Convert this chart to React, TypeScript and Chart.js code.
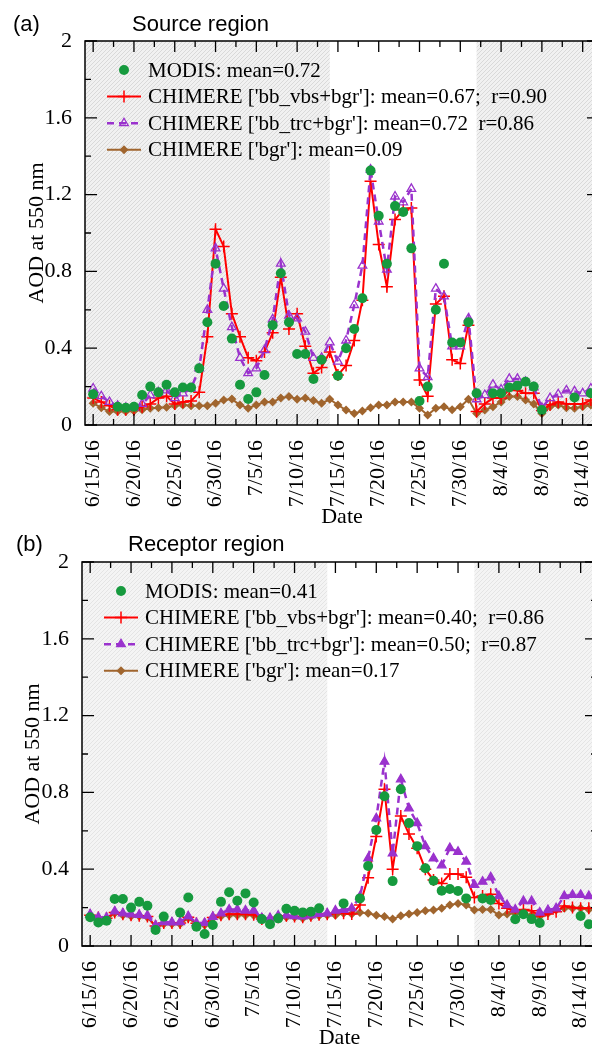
import React, { useEffect, useRef } from 'react';
import { Chart, registerables } from 'chart.js';
import { drawPoint } from 'chart.js/helpers';

Chart.register(...registerables);

// ---------- categories (daily) ----------
const dates = [
  '6/14/16', '6/15/16', '6/16/16', '6/17/16', '6/18/16', '6/19/16', '6/20/16', '6/21/16', '6/22/16', '6/23/16',
  '6/24/16', '6/25/16', '6/26/16', '6/27/16', '6/28/16', '6/29/16', '6/30/16',
  '7/1/16', '7/2/16', '7/3/16', '7/4/16', '7/5/16', '7/6/16', '7/7/16', '7/8/16', '7/9/16', '7/10/16',
  '7/11/16', '7/12/16', '7/13/16', '7/14/16', '7/15/16', '7/16/16', '7/17/16', '7/18/16', '7/19/16', '7/20/16',
  '7/21/16', '7/22/16', '7/23/16', '7/24/16', '7/25/16', '7/26/16', '7/27/16', '7/28/16', '7/29/16', '7/30/16', '7/31/16',
  '8/1/16', '8/2/16', '8/3/16', '8/4/16', '8/5/16', '8/6/16', '8/7/16', '8/8/16', '8/9/16', '8/10/16',
  '8/11/16', '8/12/16', '8/13/16', '8/14/16', '8/15/16', '8/16/16',
];
const xTickLabels = ['6/15/16', '6/20/16', '6/25/16', '6/30/16', '7/5/16', '7/10/16', '7/15/16', '7/20/16', '7/25/16', '7/30/16', '8/4/16', '8/9/16', '8/14/16'];
const yTicks = [0, 0.4, 0.8, 1.2, 1.6, 2];
// un-hatched (clear) period of the background
const clearPeriod = ['7/14/16', '8/1/16'];

// ---------- (a) Source region ----------
const srcModis = [null,
  0.16, null, null, 0.095, 0.09, 0.095, 0.156, 0.20, 0.17, 0.21,
  0.17, 0.195, 0.195, 0.295, 0.535, 0.84, 0.62, 0.45, 0.21, 0.135,
  0.17, 0.26, 0.52, 0.79, 0.535, 0.37, 0.37, 0.24, 0.34, null,
  0.257, 0.40, 0.50, 0.66, 1.325, 1.09, 0.84, 1.14, 1.11, 0.92,
  0.125, 0.20, 0.60, 0.84, 0.43, 0.43, 0.535, 0.165, null, 0.165,
  0.165, 0.195, 0.205, 0.225, 0.20, 0.078, null, null, null, 0.143,
  null, 0.165, null];
const srcVbs = [null,
  0.14, 0.12, 0.10, 0.08, 0.08, 0.08, 0.095, 0.11, 0.14, 0.15,
  0.11, 0.12, 0.125, 0.17, 0.46, 1.02, 0.93, 0.58, 0.46, 0.35,
  0.335, 0.38, 0.48, 0.77, 0.50, 0.58, 0.41, 0.27, 0.30, 0.38,
  0.26, 0.31, 0.44, 0.65, 1.27, 0.94, 0.72, 1.07, 1.12, 1.13,
  0.235, 0.15, 0.63, 0.67, 0.34, 0.32, 0.52, 0.07, 0.11, 0.14,
  0.14, 0.185, 0.18, 0.165, 0.165, 0.075, 0.105, 0.12, 0.11, 0.11,
  0.11, 0.13, null];
const srcTrc = [null,
  0.19, 0.15, 0.12, 0.10, 0.09, 0.09, 0.11, 0.155, 0.17, 0.18,
  0.14, 0.165, 0.19, 0.295, 0.60, 0.92, 0.71, 0.51, 0.35, 0.27,
  0.295, 0.39, 0.55, 0.84, 0.57, 0.555, 0.486, 0.35, 0.35, 0.43,
  0.33, 0.44, 0.625, 0.83, 1.33, 1.06, 0.81, 1.19, 1.16, 1.23,
  0.295, 0.25, 0.71, 0.67, 0.41, 0.41, 0.555, 0.134, 0.156, 0.21,
  0.185, 0.24, 0.24, 0.225, 0.196, 0.09, 0.14, 0.16, 0.18, 0.175,
  0.165, 0.19, null];
const srcBgr = [null,
  0.113, 0.09, 0.07, 0.07, 0.07, 0.073, 0.08, 0.087, 0.09, 0.092,
  0.10, 0.104, 0.10, 0.10, 0.10, 0.113, 0.13, 0.135, 0.104, 0.087,
  0.104, 0.12, 0.12, 0.14, 0.148, 0.134, 0.14, 0.127, 0.113, 0.134,
  0.104, 0.078, 0.06, 0.073, 0.09, 0.104, 0.104, 0.12, 0.12, 0.12,
  0.087, 0.052, 0.087, 0.095, 0.08, 0.095, 0.134, 0.06, 0.078, 0.095,
  0.12, 0.148, 0.148, 0.13, 0.11, 0.06, 0.095, 0.104, 0.09, 0.087,
  0.095, 0.104, null];
const srcLegend = [
  'MODIS: mean=0.72',
  "CHIMERE ['bb_vbs+bgr']: mean=0.67;  r=0.90",
  "CHIMERE ['bb_trc+bgr']: mean=0.72  r=0.86",
  "CHIMERE ['bgr']: mean=0.09",
];

// ---------- (b) Receptor region ----------
const recModis = [null,
  0.15, 0.123, 0.132, 0.245, 0.245, 0.20, 0.23, 0.21, 0.083, 0.153,
  null, 0.174, 0.253, 0.10, 0.0625, 0.109, 0.23, 0.28, 0.236, 0.274,
  0.227, 0.14, 0.113, 0.144, 0.194, 0.184, 0.175, 0.179, 0.196, null,
  null, 0.222, null, 0.248, 0.417, 0.604, 0.78, 0.338, 0.816, 0.64,
  0.52, 0.405, 0.34, 0.288, 0.297, 0.286, 0.248, null, 0.248, 0.24,
  null, null, 0.139, 0.165, 0.14, 0.12, null, null, null, null,
  0.156, 0.113, null];
const recVbs = [null,
  0.16, 0.148, 0.144, 0.175, 0.165, 0.16, 0.158, 0.153, 0.104, 0.12,
  0.12, 0.12, 0.15, 0.118, 0.115, 0.148, 0.16, 0.165, 0.165, 0.165,
  0.163, 0.14, 0.14, 0.15, 0.157, 0.153, 0.15, 0.157, 0.163, 0.165,
  0.17, 0.17, 0.167, 0.214, 0.356, 0.57, 0.816, 0.40, 0.677, 0.583,
  0.509, 0.40, 0.344, 0.326, 0.375, 0.375, 0.358, 0.253, 0.26, 0.27,
  0.222, 0.196, 0.179, 0.19, 0.184, 0.156, 0.167, 0.179, 0.208, 0.20,
  0.196, 0.196, null];
const recTrc = [null,
  0.165, 0.15, 0.148, 0.18, 0.17, 0.165, 0.162, 0.158, 0.108, 0.125,
  0.123, 0.125, 0.155, 0.12, 0.12, 0.152, 0.17, 0.19, 0.19, 0.185,
  0.185, 0.145, 0.145, 0.158, 0.16, 0.156, 0.155, 0.16, 0.167, 0.17,
  0.184, 0.188, 0.196, 0.257, 0.457, 0.665, 0.96, 0.483, 0.868, 0.717,
  0.64, 0.52, 0.457, 0.42, 0.51, 0.49, 0.44, 0.318, 0.335, 0.358,
  0.26, 0.213, 0.19, 0.234, 0.234, 0.174, 0.1875, 0.196, 0.26, 0.266,
  0.266, 0.26, null];
const recBgr = [null,
  0.155, 0.145, 0.14, 0.17, 0.16, 0.155, 0.155, 0.15, 0.10, 0.115,
  0.115, 0.115, 0.145, 0.115, 0.11, 0.145, 0.155, 0.16, 0.16, 0.16,
  0.16, 0.135, 0.135, 0.145, 0.15, 0.15, 0.145, 0.152, 0.158, 0.16,
  0.16, 0.17, 0.167, 0.174, 0.17, 0.16, 0.153, 0.14, 0.158, 0.167,
  0.175, 0.184, 0.1875, 0.196, 0.213, 0.222, 0.213, 0.1875, 0.19, 0.19,
  0.161, 0.167, 0.17, 0.167, 0.161, 0.153, 0.17, 0.1875, 0.196, 0.196,
  0.196, 0.19, null];
const recLegend = [
  'MODIS: mean=0.41',
  "CHIMERE ['bb_vbs+bgr']: mean=0.40;  r=0.86",
  "CHIMERE ['bb_trc+bgr']: mean=0.50;  r=0.87",
  "CHIMERE ['bgr']: mean=0.17",
];

const GREEN = '#169a3e';
const RED = '#ff0000';
const PURPLE = '#9a32cd';
const BROWN = '#a0652e';
const SERIF = '"Liberation Serif", "Times New Roman", serif';
const SANS = '"Liberation Sans", Arial, sans-serif';

type Spec = {
  top: number; width: number; height: number;
  padTop: number; yAxisWidth: number; xAxisHeight: number;
  yTitlePad: number; xTitleLH: number;
  letter: string; title: string; titleBase: number; letterX: number; titleX: number;
  legend: string[];
  modis: (number | null)[]; vbs: (number | null)[]; trc: (number | null)[]; bgr: (number | null)[];
  trcFilled: boolean; hatchBg: string; hatchLine: string;
};

const panels: Spec[] = [
  {
    top: 0, width: 599, height: 530, padTop: 41, yAxisWidth: 85, xAxisHeight: 105,
    yTitlePad: 26, xTitleLH: 1.18,
    letter: '(a)', title: 'Source region', titleBase: 31, letterX: 13, titleX: 132,
    legend: srcLegend, modis: srcModis, vbs: srcVbs, trc: srcTrc, bgr: srcBgr,
    trcFilled: false, hatchBg: '#f1f1f1', hatchLine: '#d9d9d9',
  },
  {
    top: 530, width: 597, height: 518, padTop: 32, yAxisWidth: 82, xAxisHeight: 102,
    yTitlePad: 22, xTitleLH: 0.9,
    letter: '(b)', title: 'Receptor region', titleBase: 21, letterX: 16, titleX: 128,
    legend: recLegend, modis: recModis, vbs: recVbs, trc: recTrc, bgr: recBgr,
    trcFilled: true, hatchBg: '#f4f4f4', hatchLine: '#e4e4e4',
  },
];

function makePattern(ctx: CanvasRenderingContext2D, bg: string, line: string) {
  const c = document.createElement('canvas');
  c.width = 4; c.height = 4;
  const g = c.getContext('2d')!;
  g.fillStyle = bg; g.fillRect(0, 0, 4, 4);
  g.strokeStyle = line; g.lineWidth = 1;
  g.beginPath();
  g.moveTo(0, 4); g.lineTo(4, 0);
  g.moveTo(-1, 1); g.lineTo(1, -1);
  g.moveTo(3, 5); g.lineTo(5, 3);
  g.stroke();
  return ctx.createPattern(c, 'repeat')!;
}

function Panel({ spec }: { spec: Spec }) {
  const ref = useRef<HTMLCanvasElement | null>(null);
  useEffect(() => {
    const canvas = ref.current!;
    const pointDefs = [
      { pointStyle: 'circle', radius: 5, rotation: 0, borderWidth: 0, fill: GREEN, stroke: GREEN },
      { pointStyle: 'cross', radius: 6, rotation: 0, borderWidth: 1.5, fill: RED, stroke: RED },
      { pointStyle: 'triangle', radius: 5, rotation: 0, borderWidth: 1.3, fill: spec.trcFilled ? PURPLE : 'rgba(0,0,0,0)', stroke: PURPLE },
      { pointStyle: 'rectRot', radius: 4.5, rotation: 0, borderWidth: 0, fill: BROWN, stroke: BROWN },
    ];
    const lineDefs = [
      null,
      { color: RED, width: 2, dash: [] as number[] },
      { color: PURPLE, width: 2.5, dash: [7, 5] },
      { color: BROWN, width: 2, dash: [] as number[] },
    ];

    const decor = {
      id: 'decor',
      beforeDatasetsDraw(chart: any) {
        const { ctx, chartArea: a, scales: { x } } = chart;
        ctx.save();
        ctx.beginPath();
        ctx.rect(a.left, a.top, a.right - a.left, a.bottom - a.top);
        ctx.clip();
        ctx.fillStyle = '#ffffff';
        ctx.fillRect(a.left, a.top, a.right - a.left, a.bottom - a.top);
        const pat = makePattern(ctx, spec.hatchBg, spec.hatchLine);
        const x0 = x.getPixelForValue(dates.indexOf(clearPeriod[0]));
        const x1 = x.getPixelForValue(dates.indexOf(clearPeriod[1]));
        ctx.fillStyle = pat;
        ctx.fillRect(a.left, a.top, x0 - a.left, a.bottom - a.top);
        ctx.fillRect(x1, a.top, a.right - x1, a.bottom - a.top);
        ctx.restore();
      },
      afterDraw(chart: any) {
        const { ctx, chartArea: a, scales: { x, y } } = chart;
        ctx.save();
        // inward tick marks
        ctx.strokeStyle = '#000';
        ctx.lineWidth = 1.3;
        ctx.setLineDash([]);
        const majors = xTickLabels.map((l) => dates.indexOf(l));
        const vt = (px: number, len: number) => {
          ctx.beginPath();
          ctx.moveTo(px, a.bottom); ctx.lineTo(px, a.bottom - len);
          ctx.moveTo(px, a.top); ctx.lineTo(px, a.top + len);
          ctx.stroke();
        };
        majors.forEach((m) => vt(x.getPixelForValue(m), 11));
        for (let k = 0; k < majors.length - 1; k++) vt(x.getPixelForValue((majors[k] + majors[k + 1]) / 2), 6);
        const ht = (py: number, len: number) => {
          ctx.beginPath();
          ctx.moveTo(a.left, py); ctx.lineTo(a.left + len, py);
          ctx.moveTo(a.right, py); ctx.lineTo(a.right - len, py);
          ctx.stroke();
        };
        yTicks.forEach((v) => ht(y.getPixelForValue(v), 12));
        for (let k = 0; k < yTicks.length - 1; k++) ht(y.getPixelForValue((yTicks[k] + yTicks[k + 1]) / 2), 6);
        // frame
        ctx.lineWidth = 1.5;
        ctx.strokeRect(a.left, a.top, a.right - a.left, a.bottom - a.top);

        // legend
        const lx = a.left + 39;
        spec.legend.forEach((text, i) => {
          const ly = a.top + 29 + i * 26.6;
          const ld = lineDefs[i];
          if (ld) {
            ctx.strokeStyle = ld.color;
            ctx.lineWidth = ld.width;
            ctx.setLineDash(ld.dash);
            ctx.beginPath();
            ctx.moveTo(lx - 17, ly); ctx.lineTo(lx + 17, ly);
            ctx.stroke();
            ctx.setLineDash([]);
          }
          const pd = pointDefs[i];
          ctx.fillStyle = pd.fill;
          ctx.strokeStyle = pd.stroke;
          ctx.lineWidth = pd.borderWidth;
          drawPoint(ctx, pd as any, lx, ly);
          ctx.fillStyle = '#000';
          ctx.font = `21px ${SERIF}`;
          ctx.textBaseline = 'middle';
          ctx.textAlign = 'left';
          ctx.fillText(text, a.left + 63, ly + 1);
        });

        // panel titles
        ctx.fillStyle = '#000';
        ctx.font = `22px ${SANS}`;
        ctx.textBaseline = 'alphabetic';
        ctx.fillText(spec.letter, spec.letterX, spec.titleBase);
        ctx.fillText(spec.title, spec.titleX, spec.titleBase);
        ctx.restore();
      },
    };

    const chart = new Chart(canvas, {
      type: 'line',
      data: {
        labels: dates,
        datasets: [
          {
            label: 'MODIS', data: spec.modis, showLine: false, order: 0,
            pointStyle: 'circle', pointRadius: 5, pointBackgroundColor: GREEN, pointBorderColor: GREEN, pointBorderWidth: 0,
          },
          {
            label: "CHIMERE ['bb_vbs+bgr']", data: spec.vbs, order: 2,
            borderColor: RED, borderWidth: 2, tension: 0,
            pointStyle: 'cross', pointRadius: 6, pointBorderColor: RED, pointBorderWidth: 1.5,
          },
          {
            label: "CHIMERE ['bb_trc+bgr']", data: spec.trc, order: 1,
            borderColor: PURPLE, borderWidth: 2.5, borderDash: [7, 5], tension: 0,
            pointStyle: 'triangle', pointRadius: 5, pointBorderColor: PURPLE,
            pointBackgroundColor: spec.trcFilled ? PURPLE : 'rgba(0,0,0,0)', pointBorderWidth: 1.3,
          },
          {
            label: "CHIMERE ['bgr']", data: spec.bgr, order: 3,
            borderColor: BROWN, borderWidth: 2, tension: 0,
            pointStyle: 'rectRot', pointRadius: 4.5, pointBackgroundColor: BROWN, pointBorderColor: BROWN, pointBorderWidth: 0,
          },
        ] as any,
      },
      options: {
        responsive: false,
        animation: false,
        events: [],
        devicePixelRatio: 1,
        layout: { padding: { top: spec.padTop, left: 0, right: 0, bottom: 0 }, autoPadding: false },
        plugins: { legend: { display: false }, tooltip: { enabled: false } },
        scales: {
          x: {
            type: 'category',
            offset: false,
            grid: { display: false },
            border: { display: false },
            afterFit: (s: any) => {
              s.height = spec.xAxisHeight;
              s.paddingLeft = 0; s.paddingRight = 0;
            },
            ticks: {
              autoSkip: false, maxRotation: 90, minRotation: 90, padding: 7, color: '#000',
              font: { family: SERIF, size: 22 },
              callback: (v: any) => (xTickLabels.includes(dates[v]) ? dates[v] : ''),
            },
            title: {
              display: true, text: 'Date', color: '#000',
              font: { family: SERIF, size: 22, lineHeight: spec.xTitleLH },
              padding: { top: 0, bottom: 0 },
            },
          },
          y: {
            type: 'linear', min: 0, max: 2,
            grid: { display: false },
            border: { display: false },
            afterFit: (s: any) => {
              s.width = spec.yAxisWidth;
              s.paddingTop = 0; s.paddingBottom = 0;
            },
            afterBuildTicks: (s: any) => { s.ticks = yTicks.map((v) => ({ value: v })); },
            ticks: {
              padding: 5, color: '#000',
              font: { family: SERIF, size: 22 },
              callback: (v: any) => String(Math.round(Number(v) * 10) / 10),
            },
            title: {
              display: true, text: 'AOD at 550 nm', color: '#000',
              font: { family: SERIF, size: 22, lineHeight: 1 },
              padding: { top: spec.yTitlePad, bottom: 0 },
            },
          },
        },
      } as any,
      plugins: [decor],
    });
    return () => chart.destroy();
  }, [spec]);

  return (
    <canvas
      ref={ref}
      width={spec.width}
      height={spec.height}
      style={{ position: 'absolute', left: 0, top: spec.top, display: 'block' }}
    />
  );
}

export default function App() {
  return (
    <div style={{ position: 'absolute', left: 0, top: 0, width: 592, height: 1048, overflow: 'hidden', background: '#fff' }}>
      {panels.map((p) => (
        <Panel key={p.letter} spec={p} />
      ))}
    </div>
  );
}
